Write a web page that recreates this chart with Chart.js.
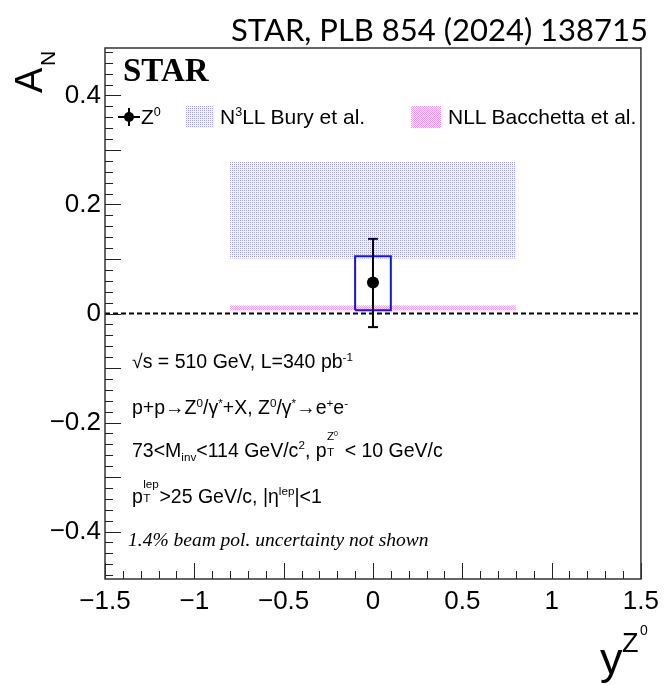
<!DOCTYPE html>
<html>
<head>
<meta charset="utf-8">
<script src="https://cdn.jsdelivr.net/npm/chart.js@4.4.1/dist/chart.umd.min.js"></script>
<style>
html,body{margin:0;padding:0;background:#fff;}
#wrap{position:relative;width:666px;height:685px;overflow:hidden;}
#c{position:absolute;left:0;top:0;}
.t{position:absolute;white-space:nowrap;line-height:1;color:#000;font-family:"Liberation Sans",Arial,sans-serif;}
.t sup,.t sub{font-size:60%;line-height:0;position:relative;vertical-align:baseline;}
.t sup{top:-0.6em}
.t sub{top:0.35em}
.ss{display:inline-block;position:relative;width:0.8em;height:1em;}
.ss span{position:absolute;left:0.03em;font-size:60%;line-height:1;}
</style>
</head>
<body>
<div id="wrap">
<canvas id="c" width="666" height="685"></canvas>

<div class="t" style="right:18px;top:14px;font-family:Lato,'Open Sans',sans-serif;font-size:31px;">STAR, PLB 854 (2024) 138715</div>

<div class="t" style="left:10px;top:93px;font-size:38px;transform:rotate(-90deg);transform-origin:0 0;">A</div>
<div class="t" style="left:37px;top:66px;font-size:21px;transform:rotate(-90deg);transform-origin:0 0;">N</div>

<div class="t" style="left:123px;top:54px;font-family:'Liberation Serif','Times New Roman',serif;font-weight:bold;font-size:33px;">STAR</div>

<div class="t" style="left:141px;top:106px;font-size:21px;">Z<sup>0</sup></div>
<div class="t" style="left:220px;top:106px;font-size:21px;">N<sup>3</sup>LL Bury et al.</div>
<div class="t" style="left:448px;top:106px;font-size:21px;">NLL Bacchetta et al.</div>

<div class="t" style="left:132px;top:352px;font-size:19.5px;">√s = 510 GeV, L=340 pb<sup>-1</sup></div>
<div class="t" style="left:132px;top:398px;font-size:19.5px;">p+p→Z<sup>0</sup>/γ<sup>*</sup>+X, Z<sup>0</sup>/γ<sup>*</sup>→e<sup>+</sup>e<sup>-</sup></div>
<div class="t" style="left:132px;top:437px;font-size:19.5px;">73&lt;M<sub>inv</sub>&lt;114 GeV/c<sup>2</sup>, p<span class="ss" style="width:0.65em"><span style="top:-0.6em">Z<sup>0</sup></span><span style="top:0.75em">T</span></span> &lt; 10 GeV/c</div>
<div class="t" style="left:132px;top:483px;font-size:19.5px;">p<span class="ss" style="width:0.85em"><span style="top:-0.45em">lep</span><span style="top:0.75em">T</span></span>&gt;25 GeV/c, |η<sup>lep</sup>|&lt;1</div>
<div class="t" style="left:128px;top:530px;font-family:'Liberation Serif','Times New Roman',serif;font-style:italic;font-size:19.5px;">1.4% beam pol. uncertainty not shown</div>

<div class="t" style="left:600px;top:636px;font-size:45px;">y</div>
<div class="t" style="left:622px;top:630px;font-size:27px;">Z</div>
<div class="t" style="left:640px;top:623px;font-size:14px;">0</div>
</div>

<script>
// Axis ticks (labelled values)
const xTicks = [-1.5, -1, -0.5, 0, 0.5, 1, 1.5];
const yTicks = [-0.4, -0.2, 0, 0.2, 0.4];
const xRange = [-1.5, 1.5];
const yRange = [-0.487, 0.487];

// STAR measurement, Z0 at y = 0
const zX = [0];
const zAN = [0.057];
const statLo = [-0.025];
const statHi = [0.137];
const sysLo = [0.006];
const sysHi = [0.105];
const sysHalfW = [0.1];

// Theory bands
const buryX = [-0.8, 0.8];
const buryLo = [0.101, 0.101];
const buryHi = [0.279, 0.279];
const bacX = [-0.8, 0.8];
const bacLo = [0.006, 0.006];
const bacHi = [0.015, 0.015];

const pts = (xs, ys) => xs.map((x, i) => ({x, y: ys[i]}));

function dotPattern(color, n, dots){
  const c = document.createElement('canvas'); c.width = c.height = n;
  const g = c.getContext('2d'); g.fillStyle = color;
  dots.forEach(([a,b]) => g.fillRect(a, b, 1, 1));
  return g.createPattern(c, 'repeat');
}
const buryFill = dotPattern('#a2a2ea', 2, [[0,0]]);
const bacFill = dotPattern('#ec9cec', 2, [[0,0],[1,1]]);

const fmtTick = (v) => (v < 0 ? '\u2212' : '') + String(Math.abs(v));

// sys box outline from the arrays
const boxPts = zX.flatMap((x, i) => {
  const l = x - sysHalfW[i], r = x + sysHalfW[i];
  return [{x:l,y:sysLo[i]},{x:r,y:sysLo[i]},{x:r,y:sysHi[i]},{x:l,y:sysHi[i]},{x:l,y:sysLo[i]}];
});

// inner ticks + frame + legend glyphs
const frame = {
  id: 'frame',
  afterDraw(chart){
    const {ctx, chartArea: a, scales: {x, y}} = chart;
    ctx.save();
    ctx.strokeStyle = '#222'; ctx.lineWidth = 1;
    ctx.beginPath();
    for (let i = -25; i <= 25; i++){
      const py = Math.round(y.getPixelForValue(i * 0.02)) + 0.5;
      if (py < a.top || py > a.bottom) continue;
      const len = i % 5 === 0 ? 16 : 8;
      ctx.moveTo(a.left, py); ctx.lineTo(a.left + len, py);
    }
    for (let i = -15; i <= 15; i++){
      const px = Math.round(x.getPixelForValue(i * 0.1)) + 0.5;
      const len = i % 5 === 0 ? 16 : 8;
      ctx.moveTo(px, a.bottom); ctx.lineTo(px, a.bottom - len);
    }
    ctx.stroke();
    ctx.lineWidth = 1.5; ctx.strokeStyle = '#333';
    ctx.strokeRect(a.left, a.top, a.right - a.left, a.bottom - a.top);

    // legend glyphs
    ctx.strokeStyle = '#000'; ctx.lineWidth = 2;
    ctx.beginPath();
    ctx.moveTo(118, 117); ctx.lineTo(140, 117);
    ctx.moveTo(129, 108); ctx.lineTo(129, 126);
    ctx.stroke();
    ctx.fillStyle = '#000';
    ctx.beginPath(); ctx.arc(129, 117, 5, 0, Math.PI * 2); ctx.fill();
    ctx.fillStyle = buryFill; ctx.fillRect(186, 106, 28, 22);
    ctx.fillStyle = bacFill; ctx.fillRect(411, 106, 30, 22);
    ctx.restore();
  }
};

const baseLine = {pointRadius: 0, borderWidth: 0, tension: 0, fill: false};

new Chart(document.getElementById('c'), {
  type: 'line',
  data: {
    datasets: [
      {...baseLine, data: pts(zX, zAN), showLine: false, pointRadius: 6, pointBackgroundColor: '#000', pointBorderColor: '#000', order: 0},
      {...baseLine, data: [{x: zX[0], y: statHi[0]}, {x: zX[0], y: statLo[0]}], borderColor: '#000', borderWidth: 2,
        pointStyle: 'line', pointRadius: 5, pointBorderWidth: 2, pointBorderColor: '#000', order: 1},
      {...baseLine, data: boxPts, borderColor: '#1414e6', borderWidth: 2, order: 2},
      {...baseLine, data: pts(xRange, [0, 0]), borderColor: '#000', borderWidth: 2, borderDash: [5, 3], order: 3},
      {...baseLine, data: pts(bacX, bacHi), backgroundColor: bacFill, fill: '+1', order: 4},
      {...baseLine, data: pts(bacX, bacLo), order: 5},
      {...baseLine, data: pts(buryX, buryHi), backgroundColor: buryFill, fill: '+1', order: 6},
      {...baseLine, data: pts(buryX, buryLo), order: 7}
    ]
  },
  options: {
    responsive: false,
    animation: false,
    devicePixelRatio: 1,
    layout: {padding: {top: 48, right: 20, left: 0, bottom: 0}},
    plugins: {legend: {display: false}, tooltip: {enabled: false}},
    scales: {
      x: {
        type: 'linear', min: xRange[0], max: xRange[1],
        afterBuildTicks: (s) => { s.ticks = xTicks.map(v => ({value: v})); },
        afterFit: (s) => { s.height = 106; },
        grid: {display: false, drawTicks: false},
        border: {display: false},
        ticks: {color: '#000', padding: 7, maxRotation: 0, autoSkip: false,
          font: {family: '"Liberation Sans", Arial, sans-serif', size: 26}, callback: fmtTick}
      },
      y: {
        type: 'linear', min: yRange[0], max: yRange[1],
        afterBuildTicks: (s) => { s.ticks = yTicks.map(v => ({value: v})); },
        afterFit: (s) => { s.width = 105; },
        grid: {display: false, drawTicks: false},
        border: {display: false},
        ticks: {color: '#000', padding: 4,
          font: {family: '"Liberation Sans", Arial, sans-serif', size: 26}, callback: fmtTick}
      }
    }
  },
  plugins: [frame]
});
</script>
</body>
</html>
